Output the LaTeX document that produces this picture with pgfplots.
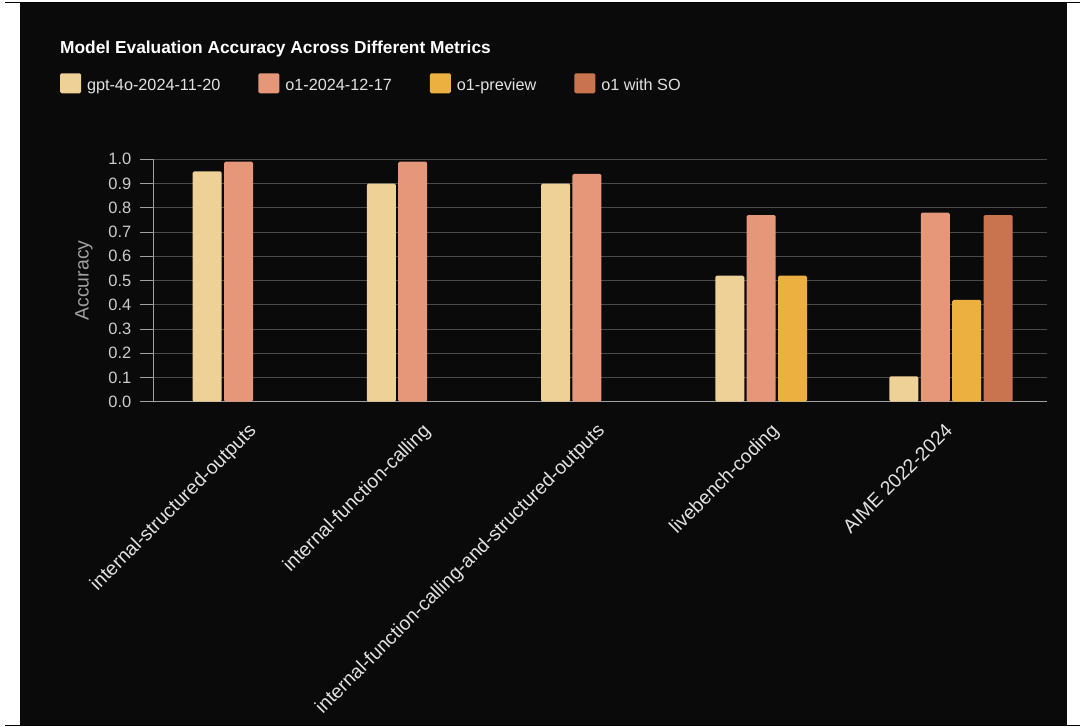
\documentclass[border=0pt]{standalone}
\usepackage{fontspec}
\setmainfont{Liberation Sans}
\usepackage{pgfplots}
\pgfplotsset{compat=1.18}
\definecolor{bg}{HTML}{0A0A0A}
\definecolor{cgpt}{HTML}{EDD196}
\definecolor{co1}{HTML}{E6977A}
\definecolor{cprev}{HTML}{EBB03F}
\definecolor{cso}{HTML}{C9744F}
\definecolor{gridc}{HTML}{4A4A4A}
\definecolor{axc}{HTML}{A0A0A0}
\definecolor{tickc}{HTML}{CCCCCC}
\definecolor{labc}{HTML}{E2E2E2}
\begin{document}
\begin{tikzpicture}
\path[use as bounding box] (0,0) rectangle (1088bp,-727bp);
\fill[bg] (20bp,-2bp) rectangle (1067bp,-725bp);
\draw[black, line width=1.2bp] (5bp,-2.6bp) -- (1080bp,-2.6bp);
\draw[black, line width=1.2bp] (5bp,-725.6bp) -- (1080bp,-725.6bp);
\node[anchor=base west, inner sep=0pt, text=white, font=\bfseries\fontsize{17.4}{20}\selectfont] at (60bp,-53.3bp) {Model Evaluation Accuracy Across Different Metrics};
\begin{axis}[
  at={(153bp,-401.7bp)}, anchor=south west,
  scale only axis, width=894bp, height=242.4bp,
  xmin=-0.581, xmax=4.551, ymin=0, ymax=1,
  axis x line=bottom, axis y line=left,
  axis line style={-},
  x axis line style={draw=axc, line width=1.5bp},
  y axis line style={draw=axc, line width=0.8bp},
  xtick={0,1,2,3,4},
  xticklabels={internal-structured-outputs, internal-function-calling, internal-function-calling-and-structured-outputs, livebench-coding, AIME 2022-2024},
  major x tick style={draw=none},
  ytick={0,0.1,0.2,0.3,0.4,0.5,0.6,0.7,0.8,0.9,1.0},
  tick align=outside, major tick length=13bp,
  major y tick style={draw=axc, line width=0.8bp},
  ymajorgrids, major grid style={draw=gridc, line width=0.9bp},
  /pgf/number format/assume math mode=true,
  yticklabel style={/pgf/number format/.cd, fixed, fixed zerofill, precision=1, /tikz/.cd, font=\fontsize{16.5}{18}\selectfont, text=tickc, anchor=east, inner sep=0pt, xshift=-8.5bp},
  xticklabel style={rotate=45, anchor=north east, xshift=-10bp, yshift=0bp, inner sep=0pt, font=\fontsize{19.4}{22}\selectfont, text=labc},
  ylabel={Accuracy},
  every axis y label/.style={at={(axis description cs:0,0.5)}, xshift=-69bp, rotate=90, anchor=center, font=\fontsize{19.5}{22}\selectfont, text=axc},
  legend style={draw=none, fill=none, at={(axis description cs:-0.104,1.355)}, anchor=north west, legend columns=-1, inner sep=0pt, outer sep=0pt, font=\fontsize{16.3}{19}\selectfont, text=labc, nodes={inner sep=0pt, text height=11.7pt, text depth=3.4pt, anchor=west}, /tikz/every odd column/.append style={column sep=6bp}, /tikz/every even column/.append style={column sep=38bp}},
  legend image code/.code={\fill[#1] (0bp,-6.5bp) rectangle (21bp,13.5bp);},
]
\addplot[ybar, bar width=0.1665, bar shift=-0.27, fill=cgpt, draw=none, rounded corners=1.5bp] coordinates {(0,0.95) (1,0.90) (2,0.90) (3,0.52) (4,0.105)};
\addlegendentry{gpt-4o-2024-11-20}
\addplot[ybar, bar width=0.1665, bar shift=-0.09, fill=co1, draw=none, rounded corners=1.5bp] coordinates {(0,0.99) (1,0.99) (2,0.94) (3,0.77) (4,0.78)};
\addlegendentry{o1-2024-12-17}
\addplot[ybar, bar width=0.1665, bar shift=0.09, fill=cprev, draw=none, rounded corners=1.5bp] coordinates {(3,0.52) (4,0.42)};
\addlegendentry{o1-preview}
\addplot[ybar, bar width=0.1665, bar shift=0.27, fill=cso, draw=none, rounded corners=1.5bp] coordinates {(4,0.77)};
\addlegendentry{o1 with SO}
\end{axis}
\end{tikzpicture}
\end{document}
